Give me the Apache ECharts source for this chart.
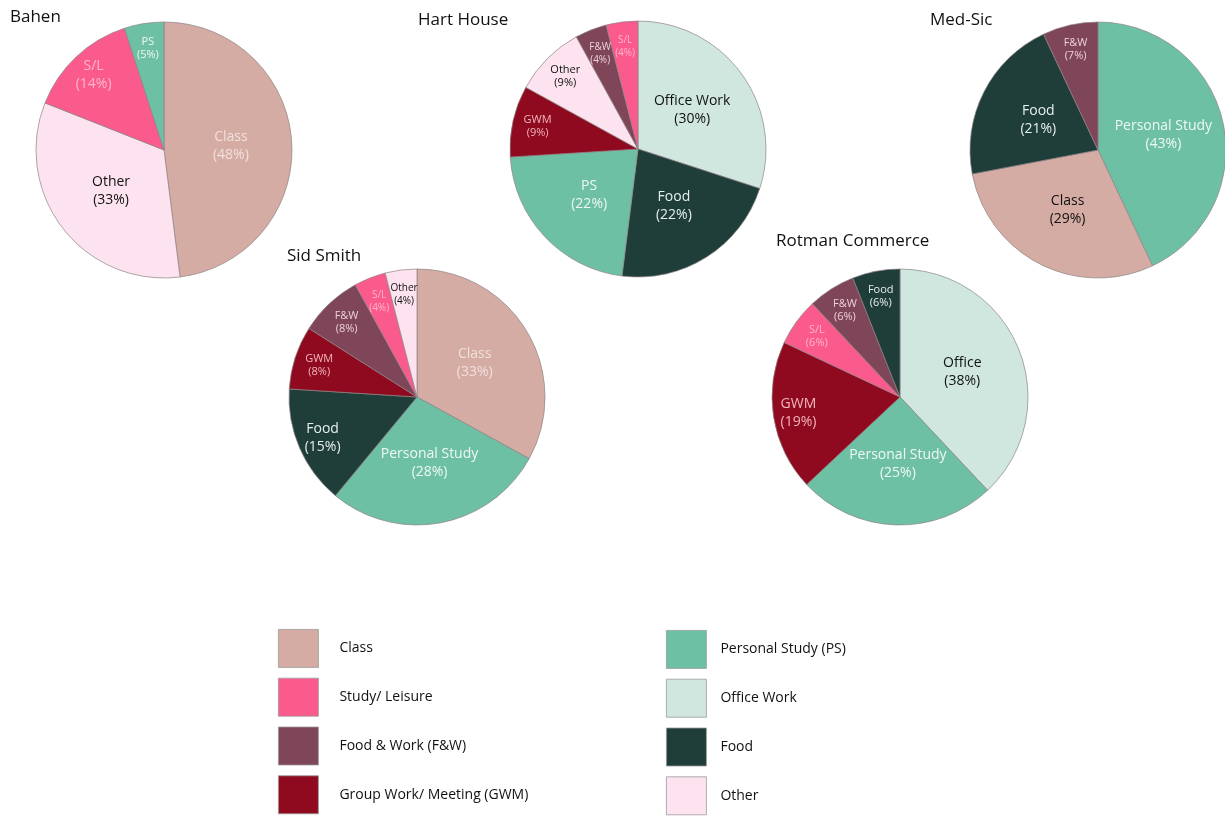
<!DOCTYPE html>
<html>
<head>
<meta charset="utf-8">
<script src="https://cdn.jsdelivr.net/npm/echarts@6/dist/echarts.min.js"></script>
<style>
html,body{margin:0;padding:0;background:#fff;}
#chart{width:1225px;height:816px;}
</style>
</head>
<body>
<div id="chart"></div>
<script>
// ---- Data ----
const legendLeft = ['Class', 'Study/ Leisure', 'Food & Work (F&W)', 'Group Work/ Meeting (GWM)'];
const legendRight = ['Personal Study (PS)', 'Office Work', 'Food', 'Other'];

const pieTitles = ['Bahen', 'Hart House', 'Med-Sic', 'Sid Smith', 'Rotman Commerce'];

const bahenCats = ['Class', 'Other', 'Study/ Leisure', 'Personal Study (PS)'];
const bahenShort = ['Class', 'Other', 'S/L', 'PS'];
const bahenValues = [48, 33, 14, 5];

const hartCats = ['Office Work', 'Food', 'Personal Study (PS)', 'Group Work/ Meeting (GWM)', 'Other', 'Food & Work (F&W)', 'Study/ Leisure'];
const hartShort = ['Office Work', 'Food', 'PS', 'GWM', 'Other', 'F&W', 'S/L'];
const hartValues = [30, 22, 22, 9, 9, 4, 4];

const medCats = ['Personal Study (PS)', 'Class', 'Food', 'Food & Work (F&W)'];
const medShort = ['Personal Study', 'Class', 'Food', 'F&W'];
const medValues = [43, 29, 21, 7];

const sidCats = ['Class', 'Personal Study (PS)', 'Food', 'Group Work/ Meeting (GWM)', 'Food & Work (F&W)', 'Study/ Leisure', 'Other'];
const sidShort = ['Class', 'Personal Study', 'Food', 'GWM', 'F&W', 'S/L', 'Other'];
const sidValues = [33, 28, 15, 8, 8, 4, 4];

const rotCats = ['Office Work', 'Personal Study (PS)', 'Group Work/ Meeting (GWM)', 'Study/ Leisure', 'Food & Work (F&W)', 'Food'];
const rotShort = ['Office', 'Personal Study', 'GWM', 'S/L', 'F&W', 'Food'];
const rotValues = [38, 25, 19, 6, 6, 6];

// ---- Styles ----
const colors = {
  'Class': '#d4aca3',
  'Study/ Leisure': '#fb5a8c',
  'Food & Work (F&W)': '#7f4559',
  'Group Work/ Meeting (GWM)': '#8f0a1f',
  'Personal Study (PS)': '#6ec0a4',
  'Office Work': '#cfe7df',
  'Food': '#1f3e39',
  'Other': '#fde3f0'
};
const labelColors = {
  'Class': '#f1e0dc',
  'Study/ Leisure': '#ffb6cb',
  'Food & Work (F&W)': '#ecd0da',
  'Group Work/ Meeting (GWM)': '#f0b4bc',
  'Personal Study (PS)': '#eef8f3',
  'Office Work': '#111111',
  'Food': '#e6efec',
  'Other': '#111111'
};
const FONT = '"Open Sans", "Noto Sans", sans-serif';

const pies = [
  {cats: bahenCats, short: bahenShort, values: bahenValues, center: [164, 150], title: [10, 9]},
  {cats: hartCats, short: hartShort, values: hartValues, center: [638, 149], title: [418, 12]},
  {cats: medCats, short: medShort, values: medValues, center: [1098, 150], title: [930, 12], labelOverride: {'Class': '#111111'}},
  {cats: sidCats, short: sidShort, values: sidValues, center: [417, 397], title: [287, 248]},
  {cats: rotCats, short: rotShort, values: rotValues, center: [900, 397], title: [776, 233]}
];
const R = 128;
const OUTER = 20; // slices below this share get their label further out

const series = [];
const overlays = [];
const titles = [];
pies.forEach((p, pi) => {
  const lc = (c) => (p.labelOverride && p.labelOverride[c]) || labelColors[c];
  const fs = (v) => v >= 12 ? 14 : (v >= 5 ? 11 : 10);
  series.push({
    type: 'pie',
    center: p.center,
    radius: [0, R],
    startAngle: 90,
    clockwise: true,
    avoidLabelOverlap: false,
    silent: true,
    labelLayout: {hideOverlap: false},
    itemStyle: {borderColor: '#8d8284', borderWidth: 0.7},
    label: {
      show: true,
      position: 'inside',
      fontFamily: FONT,
      lineHeight: 18,
      formatter: (prm) => prm.value >= OUTER ? p.short[prm.dataIndex] + '\n(' + prm.value + '%)' : ''
    },
    labelLine: {show: false},
    data: p.cats.map((c, i) => ({
      name: c,
      value: p.values[i],
      itemStyle: {color: colors[c]},
      label: {color: lc(c), fontSize: fs(p.values[i])}
    }))
  });
  overlays.push({
    type: 'pie',
    center: p.center,
    radius: [R * 0.56, R],
    startAngle: 90,
    clockwise: true,
    avoidLabelOverlap: false,
    silent: true,
    legendHoverLink: false,
    labelLayout: {hideOverlap: false},
    itemStyle: {color: 'rgba(0,0,0,0)', borderWidth: 0},
    label: {
      show: true,
      position: 'inside',
      fontFamily: FONT,
      formatter: (prm) => prm.value < OUTER ? p.short[prm.dataIndex] + '\n(' + prm.value + '%)' : ''
    },
    labelLine: {show: false},
    data: p.cats.map((c, i) => ({
      name: c,
      value: p.values[i],
      itemStyle: {color: 'rgba(0,0,0,0)'},
      label: {color: lc(c), fontSize: fs(p.values[i]), lineHeight: p.values[i] >= 12 ? 18 : 13}
    }))
  });
  titles.push({
    text: pieTitles[pi],
    left: p.title[0],
    top: p.title[1],
    padding: 0,
    textStyle: {fontFamily: FONT, fontSize: 17, fontWeight: 'normal', color: '#111'}
  });
});

const legendCommon = {
  orient: 'vertical',
  itemWidth: 40,
  itemHeight: 38,
  itemGap: 10,
  selectedMode: false,
  icon: 'rect',
  padding: 0
};
const mkLegend = (names, left, top, gap) => Object.assign({}, legendCommon, {
  left: left,
  top: top,
  textStyle: {fontFamily: FONT, fontSize: 14, color: '#111', padding: [0, 0, 0, gap]},
  data: names.map(n => ({name: n, icon: 'rect', itemStyle: {color: colors[n], borderColor: '#9a9a9a', borderWidth: 0.8}}))
});

const chart = echarts.init(document.getElementById('chart'), null, {renderer: 'canvas'});
chart.setOption({
  animation: false,
  backgroundColor: '#ffffff',
  title: titles,
  legend: [mkLegend(legendLeft, 278, 629, 16), mkLegend(legendRight, 666, 630, 9)],
  series: series.concat(overlays)
});
</script>
</body>
</html>
